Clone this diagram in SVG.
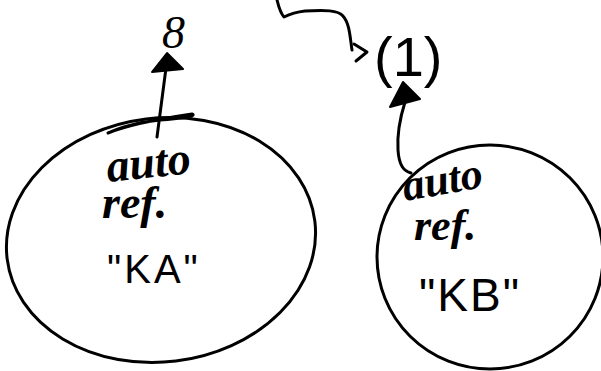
<svg xmlns="http://www.w3.org/2000/svg" width="601" height="371" viewBox="0 0 601 371">
<style>
.ln{fill:none;stroke:#000;stroke-width:3;stroke-linecap:round;stroke-linejoin:round}
.hw{font-family:"Liberation Serif","DejaVu Serif",serif;font-style:italic;fill:#000}
.pr{font-family:"Liberation Sans","DejaVu Sans",sans-serif;fill:#000}
</style>
<rect width="601" height="371" fill="#fff"/>
<g id="connectors">
<path class="ln" d="M157,137 L166,68"/>
<path d="M167,53 L183,69 L152,72 Z" fill="#000" stroke="#000" stroke-width="2" stroke-linejoin="round"/>
<path class="ln" d="M411,173 C404,171 399,166 398,150 C397,135 400,118 405,102"/>
<path d="M403,82 L420,99 L390,107 Z" fill="#000" stroke="#000" stroke-width="2" stroke-linejoin="round"/>
<path class="ln" d="M277,0 C279,8 281,14 284,17 C290,14 296,12 305,11 C325,10 338,10 343,16 C350,24 350,38 352,50"/>
<path class="ln" d="M354,44 L367,52 L356,61"/>
</g>
<g id="nodeKA">
<ellipse class="ln" cx="161" cy="240" rx="155" ry="122" transform="rotate(-7 161 240)"/>
<path class="ln" stroke-width="2" d="M108,133 C130,124 165,118 192,114 C198,116 180,119 160,120 C138,122 118,128 108,133"/>
<text class="hw" x="108" y="182" font-size="46" font-weight="bold" transform="rotate(-6 108 182)">auto</text>
<text class="hw" x="102" y="218" font-size="46" font-weight="bold">ref.</text>
<text class="pr" x="107" y="283" font-size="40" letter-spacing="3">"KA"</text>
</g>
<g id="nodeKB">
<ellipse class="ln" cx="490" cy="257" rx="113" ry="112"/>
<text class="hw" x="405" y="201" font-size="44" font-weight="bold" transform="rotate(-10 405 201)">auto</text>
<text class="hw" x="414" y="240" font-size="44" font-weight="bold">ref.</text>
<text class="pr" x="419" y="311" font-size="46" letter-spacing="2">"KB"</text>
</g>
<g id="node8">
<text class="hw" x="162" y="48" font-size="46">8</text>
</g>
<g id="node1">
<text class="pr" x="374" y="76" font-size="56" font-weight="300">(1)</text>
</g>
</svg>
